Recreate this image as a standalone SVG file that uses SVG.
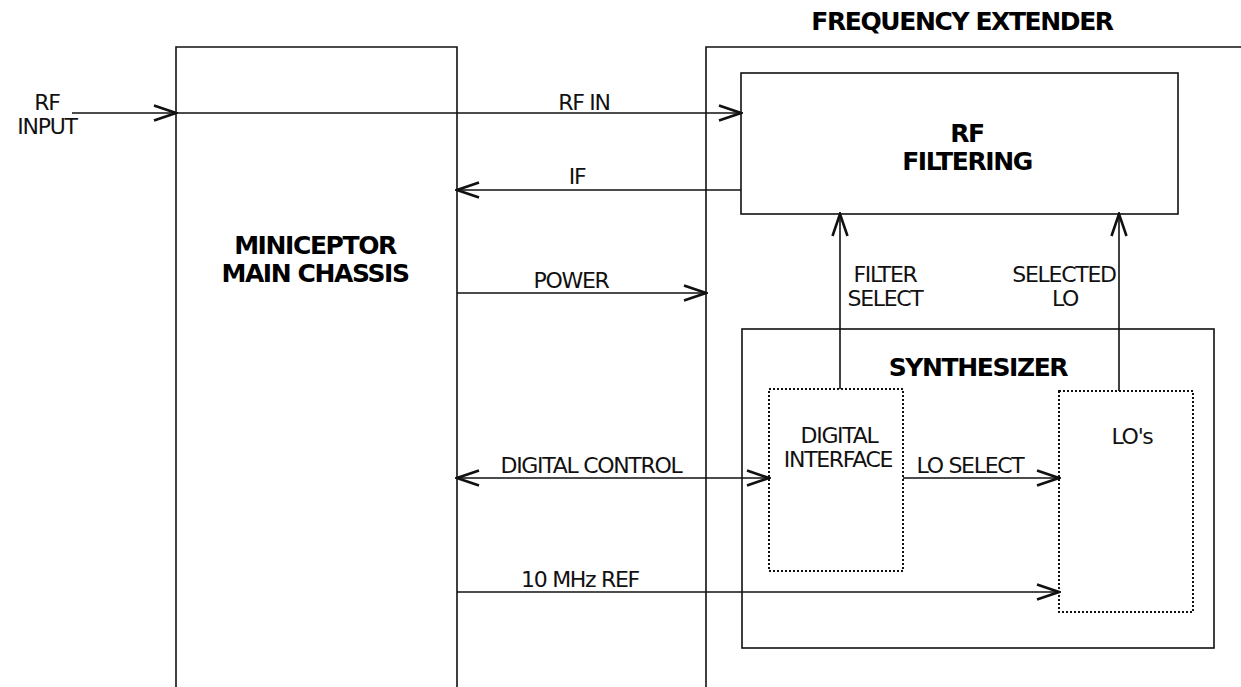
<svg xmlns="http://www.w3.org/2000/svg" width="1241" height="687" viewBox="0 0 1241 687">
<style>
.ln{stroke:#111;stroke-width:1.6;fill:none}
.dot{stroke:#111;stroke-width:2;fill:none;stroke-dasharray:2 2}
.t{font-family:"DejaVu Sans",sans-serif;font-size:22px;fill:#111;text-anchor:middle;letter-spacing:-1.3px}
.b{font-family:"DejaVu Sans",sans-serif;font-size:25px;font-weight:bold;fill:#000;text-anchor:middle;letter-spacing:-1.4px}
</style>
<defs>
<marker id="ah" markerUnits="userSpaceOnUse" viewBox="-26 -11 28 22" markerWidth="28" markerHeight="22" refX="0" refY="0" orient="auto-start-reverse">
<path d="M-22,-7.5 L0,0 L-22,7.5" fill="none" stroke="#111" stroke-width="2.6" stroke-linejoin="miter"/>
</marker>
</defs>
<rect width="1241" height="687" fill="#fff"/>
<g id="main-chassis">
<path class="ln" d="M176,687 V47 H457 V687"/>
<text class="b" x="315" y="254">MINICEPTOR</text>
<text class="b" x="315" y="282">MAIN CHASSIS</text>
</g>
<g id="frequency-extender">
<path class="ln" d="M706,687 V47 H1241"/>
<text class="b" x="962" y="30">FREQUENCY EXTENDER</text>
</g>
<g id="rf-filtering">
<rect class="ln" x="741" y="73" width="437" height="141"/>
<text class="b" x="967" y="142">RF</text>
<text class="b" x="967" y="170">FILTERING</text>
</g>
<g id="synthesizer">
<rect class="ln" x="742" y="329" width="472" height="319"/>
<text class="b" x="978" y="376">SYNTHESIZER</text>
</g>
<g id="digital-interface">
<rect class="dot" x="769" y="389" width="134" height="182"/>
<text class="t" x="839" y="443">DIGITAL</text>
<text class="t" x="838" y="467">INTERFACE</text>
</g>
<g id="los">
<rect class="dot" x="1059" y="391" width="134" height="221"/>
<text class="t" x="1132" y="444">LO's</text>
</g>
<g id="rf-input-label">
<text class="t" x="47" y="110">RF</text>
<text class="t" x="47" y="134">INPUT</text>
</g>
<g id="connectors">
<line class="ln" x1="72" y1="113" x2="176" y2="113" marker-end="url(#ah)"/>
<line class="ln" x1="176" y1="113" x2="741" y2="113" marker-end="url(#ah)"/>
<text class="t" x="584" y="110">RF IN</text>
<line class="ln" x1="741" y1="190" x2="457" y2="190" marker-end="url(#ah)"/>
<text class="t" x="577" y="184">IF</text>
<line class="ln" x1="457" y1="293" x2="706" y2="293" marker-end="url(#ah)"/>
<text class="t" x="571" y="288">POWER</text>
<line class="ln" x1="457" y1="478" x2="769" y2="478" marker-start="url(#ah)" marker-end="url(#ah)"/>
<text class="t" x="591" y="473">DIGITAL CONTROL</text>
<line class="ln" x1="903" y1="478" x2="1059" y2="478" marker-end="url(#ah)"/>
<text class="t" x="970" y="473">LO SELECT</text>
<line class="ln" x1="457" y1="592" x2="1059" y2="592" marker-end="url(#ah)"/>
<text class="t" x="580" y="587">10 MHz REF</text>
<line class="ln" x1="840" y1="389" x2="840" y2="214" marker-end="url(#ah)"/>
<text class="t" x="885" y="282">FILTER</text>
<text class="t" x="885" y="306">SELECT</text>
<line class="ln" x1="1119" y1="391" x2="1119" y2="214" marker-end="url(#ah)"/>
<text class="t" x="1064" y="282">SELECTED</text>
<text class="t" x="1065" y="306">LO</text>
</g>
</svg>
